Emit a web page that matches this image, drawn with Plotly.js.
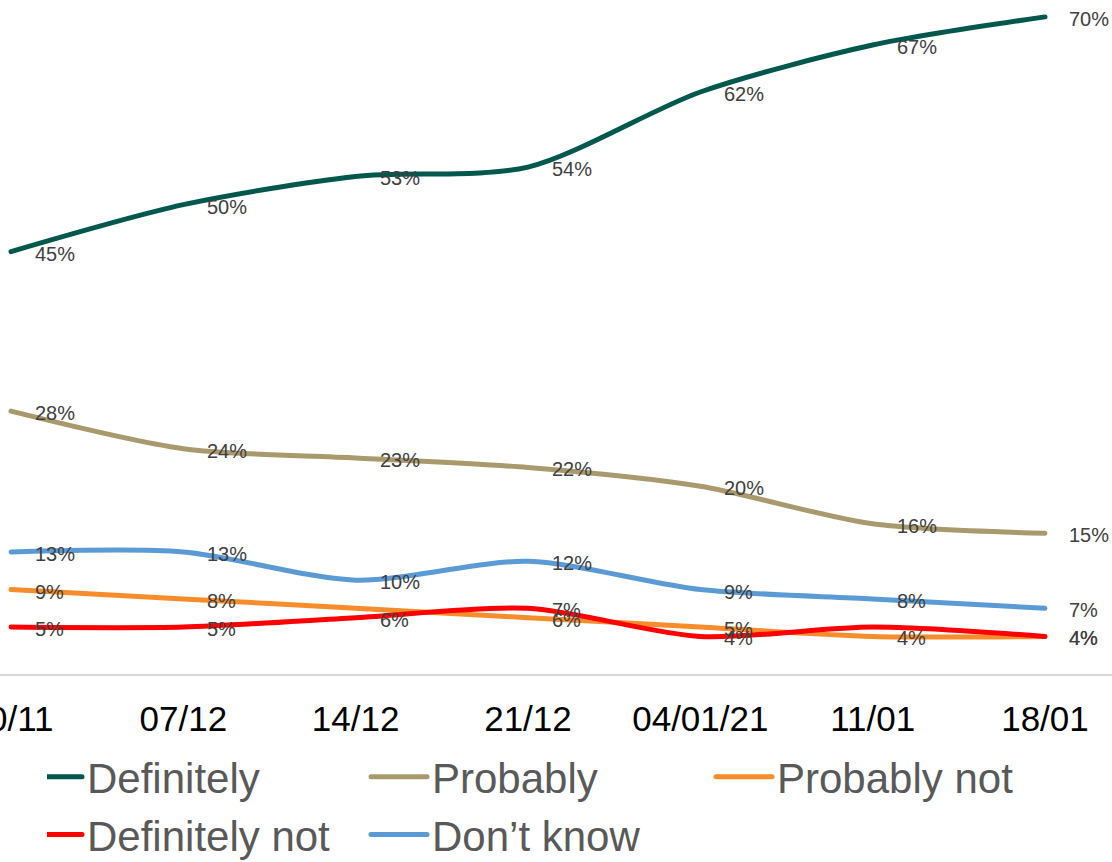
<!DOCTYPE html>
<html><head><meta charset="utf-8">
<script src="https://cdn.plot.ly/plotly-3.0.1.min.js"></script>
<style>html,body{margin:0;padding:0;background:#fff}#chart{width:1112px;height:862px}</style>
</head><body><div id="chart"></div>
<script>
const categories = ["30/11","07/12","14/12","21/12","04/01/21","11/01","18/01"];
const definitely = [45,50,53,54,62,67,70];
const probably = [28,24,23,22,20,16,15];
const probablyNot = [9,8,7,6,5,4,4];
const definitelyNot = [5,5,6,7,4,5,4];
const dontKnow = [13,13,10,12,9,8,7];
const labelsDefinitely = ["45%","50%","53%","54%","62%","67%","70%"];
const labelsProbably = ["28%","24%","23%","22%","20%","16%","15%"];
const labelsProbablyNot = ["9%","8%","","6%","5%","4%","4%"];
const labelsDefinitelyNot = ["5%","5%","6%","7%","4%","","4%"];
const labelsDontKnow = ["13%","13%","10%","12%","9%","8%","7%"];

const series = [
  {name:"Definitely", y:definitely, labels:labelsDefinitely, color:"#00574B"},
  {name:"Probably", y:probably, labels:labelsProbably, color:"#A89A6C"},
  {name:"Probably not", y:probablyNot, labels:labelsProbablyNot, color:"#F78D2A"},
  {name:"Definitely not", y:definitelyNot, labels:labelsDefinitelyNot, color:"#FF0000"},
  {name:"Don\u2019t know", y:dontKnow, labels:labelsDontKnow, color:"#5B9BD5"}
];
const xIdx = categories.map((c,i)=>i);
const traces = series.map(s=>({
  type:"scatter", mode:"lines", x:xIdx, y:s.y, name:s.name,
  line:{color:s.color, width:5, shape:"spline", smoothing:0.8},
  hoverinfo:"skip"
}));
const annotations = [];
series.forEach(s=>{
  s.y.forEach((v,i)=>{
    if(!s.labels[i]) return;
    annotations.push({x:xIdx[i], y:v, xref:"x", yref:"y", text:s.labels[i], showarrow:false,
      xanchor:"left", yanchor:"middle", xshift:22, yshift:-2,
      font:{family:"Liberation Sans, Arial, sans-serif", size:20, color:"#404040"}});
  });
});
const pxPerUnit = 172.33;
const layout = {
  width:1112, height:862,
  margin:{l:0, r:0, t:0, b:188},
  paper_bgcolor:"#fff", plot_bgcolor:"#fff",
  showlegend:true,
  xaxis:{range:[-11/pxPerUnit, (1112-11)/pxPerUnit], tickmode:"array", tickvals:xIdx, ticktext:categories,
    showgrid:false, zeroline:false, showline:true, linecolor:"#D9D9D9", linewidth:2,
    ticks:"", ticklabelstandoff:13, ticklabeloverflow:"allow",
    tickfont:{family:"Liberation Sans, Arial, sans-serif", size:35, color:"#000"}},
  yaxis:{range:[0,71.8], visible:false, showgrid:false, zeroline:false},
  legend:{orientation:"h", xref:"container", yref:"container", x:47/1112, y:(862-743)/862, xanchor:"left", yanchor:"top",
    entrywidth:300, entrywidthmode:"pixels", traceorder:"normal",
    font:{family:"Liberation Sans, Arial, sans-serif", size:42, color:"#595959"}},
  annotations:annotations
};
Plotly.newPlot("chart", traces, layout, {displayModeBar:false, staticPlot:true}).then(()=>{
  document.querySelectorAll('.legend .legendlines path').forEach(p=>{
    p.setAttribute('d','M-21,0h56');
    p.style.strokeLinecap = 'round';
  });
  document.querySelectorAll('.scatterlayer .js-line').forEach(p=>{ p.style.strokeLinecap = 'round'; });
});
</script></body></html>
